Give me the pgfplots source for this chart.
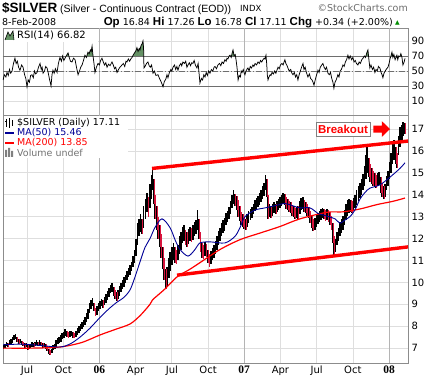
\documentclass[border=0pt]{standalone}
\usepackage{fontspec}
\setmainfont{DejaVu Sans}
\newfontfamily\arial{Liberation Sans}
\newfontfamily\tnr{Liberation Serif}
\usepackage{pgfplots}
\pgfplotsset{compat=1.18}
\usepackage{pgfplotstable}

\definecolor{gridc}{RGB}{222,222,222}
\definecolor{framec}{RGB}{140,140,140}
\definecolor{yearc}{RGB}{180,180,180}
\definecolor{barred}{RGB}{215,20,60}
\definecolor{manavy}{RGB}{0,0,150}
\definecolor{rsigreen}{RGB}{100,145,100}
\definecolor{lvl}{RGB}{110,110,110}

% half-week bars: month (Jan 2005 = 0), low, high, down flag
\pgfplotstableread{
m lo hi d
4.05 6.95 7.12 0
4.17 7.00 7.20 0
4.30 7.08 7.28 0
4.42 7.05 7.22 1
4.55 7.12 7.35 0
4.67 7.18 7.40 0
4.80 7.25 7.50 0
4.92 7.35 7.62 0
5.05 7.40 7.65 0
5.17 7.30 7.50 1
5.30 7.18 7.40 1
5.42 7.22 7.42 0
5.55 7.12 7.32 1
5.67 7.08 7.28 1
5.80 7.02 7.22 1
5.92 7.05 7.25 0
6.05 6.90 7.12 1
6.17 6.98 7.15 0
6.30 7.02 7.20 0
6.42 7.06 7.26 0
6.55 7.04 7.22 1
6.67 7.08 7.30 0
6.80 7.12 7.35 0
6.92 7.10 7.30 1
7.05 7.15 7.38 0
7.17 7.08 7.28 1
7.30 7.02 7.22 1
7.42 7.05 7.24 0
7.55 6.98 7.18 1
7.67 6.85 7.08 1
7.80 6.75 6.98 1
7.92 6.68 6.92 1
8.05 6.78 6.98 0
8.17 6.90 7.12 0
8.30 6.98 7.20 0
8.42 7.05 7.35 0
8.55 7.18 7.48 0
8.67 7.25 7.52 0
8.80 7.30 7.58 0
8.92 7.42 7.70 0
9.05 7.48 7.75 0
9.17 7.55 7.85 0
9.30 7.50 7.80 1
9.42 7.45 7.72 1
9.55 7.50 7.78 0
9.67 7.55 7.80 0
9.80 7.48 7.72 1
9.92 7.45 7.70 1
10.05 7.52 7.78 0
10.17 7.62 7.90 0
10.30 7.70 8.00 0
10.42 7.78 8.10 0
10.55 7.85 8.18 0
10.67 7.95 8.28 0
10.80 8.05 8.40 0
10.92 8.20 8.60 0
11.05 8.35 8.80 0
11.17 8.60 9.05 0
11.30 8.80 9.20 0
11.42 8.90 9.30 0
11.55 8.70 9.05 1
11.67 8.45 8.85 1
11.80 8.50 8.90 0
11.92 8.70 9.05 0
12.05 8.80 9.15 0
12.17 8.90 9.25 0
12.30 8.85 9.20 1
12.42 8.95 9.35 0
12.55 9.05 9.45 0
12.67 9.20 9.60 0
12.80 9.35 9.75 0
12.92 9.50 9.90 0
13.05 9.55 9.98 0
13.17 9.40 9.80 1
13.30 9.25 9.65 1
13.42 9.15 9.55 1
13.55 9.25 9.65 0
13.67 9.40 9.85 0
13.80 9.55 9.95 0
13.92 9.70 10.10 0
14.05 9.80 10.25 0
14.17 9.95 10.35 0
14.30 10.10 10.50 0
14.42 10.25 10.65 0
14.55 10.35 10.80 0
14.67 10.50 10.95 0
14.80 10.70 11.20 0
14.92 10.90 11.50 0
15.05 11.20 12.00 0
15.17 11.70 12.70 0
15.30 12.10 12.90 0
15.42 12.30 13.10 0
15.55 12.20 12.90 1
15.67 12.50 13.50 0
15.80 12.90 13.80 0
15.92 13.20 14.10 0
16.05 13.00 13.90 1
16.17 13.40 14.50 0
16.30 13.80 14.90 0
16.40 14.20 15.20 0
16.50 13.60 14.70 1
16.62 12.90 14.00 1
16.75 12.40 13.50 1
16.87 12.00 13.00 1
17.00 11.60 12.60 1
17.12 11.10 12.20 1
17.25 10.60 11.60 1
17.37 10.10 11.10 1
17.50 9.70 10.60 1
17.62 9.80 10.70 0
17.75 10.20 11.10 0
17.87 10.50 11.40 0
18.00 10.80 11.60 0
18.12 11.00 11.80 0
18.25 10.90 11.60 1
18.37 10.85 11.50 1
18.50 11.00 11.70 0
18.62 11.30 12.10 0
18.75 11.50 12.30 0
18.87 11.80 12.55 0
19.00 11.90 12.60 0
19.12 11.70 12.40 1
19.25 11.60 12.30 1
19.37 11.75 12.45 0
19.50 11.90 12.55 0
19.62 11.85 12.50 1
19.75 11.95 12.60 0
19.87 12.10 12.75 0
20.00 12.20 12.85 0
20.12 12.40 13.30 0
20.25 12.00 12.90 1
20.37 11.40 12.30 1
20.50 11.10 11.80 1
20.62 11.05 11.70 1
20.75 11.20 11.85 0
20.87 11.15 11.75 1
21.00 10.90 11.50 1
21.12 10.70 11.30 1
21.25 10.85 11.45 0
21.37 11.00 11.55 0
21.50 11.10 11.70 0
21.62 11.30 11.90 0
21.75 11.50 12.10 0
21.87 11.70 12.35 0
22.00 11.90 12.50 0
22.12 12.10 12.70 0
22.25 12.25 12.85 0
22.37 12.35 12.95 0
22.50 12.60 13.15 0
22.62 12.75 13.25 0
22.75 12.90 13.45 0
22.87 13.10 13.70 0
23.00 13.40 14.00 0
23.12 13.60 14.20 0
23.25 13.50 14.05 1
23.37 13.30 13.95 1
23.50 13.00 13.75 1
23.62 12.80 13.50 1
23.75 12.60 13.20 1
23.87 12.55 13.10 1
24.00 12.45 12.95 1
24.12 12.40 12.90 1
24.25 12.55 13.10 0
24.37 12.70 13.25 0
24.50 12.85 13.35 0
24.62 12.95 13.45 0
24.75 13.10 13.60 0
24.87 13.25 13.75 0
25.00 13.35 13.85 0
25.12 13.45 13.95 0
25.25 13.55 14.10 0
25.37 13.65 14.20 0
25.50 13.80 14.40 0
25.62 13.95 14.55 0
25.75 14.20 14.90 0
25.87 13.90 14.70 1
25.97 12.90 14.00 1
26.10 13.00 13.60 0
26.22 12.95 13.50 1
26.35 13.05 13.60 0
26.47 13.15 13.65 0
26.60 13.10 13.60 1
26.72 13.20 13.70 0
26.85 13.30 13.80 0
26.97 13.40 13.90 0
27.10 13.50 14.00 0
27.22 13.60 14.10 0
27.35 13.55 14.05 1
27.47 13.35 13.90 1
27.60 13.30 13.80 1
27.72 13.20 13.70 1
27.85 13.15 13.65 1
27.97 13.05 13.55 1
28.10 13.00 13.50 1
28.22 12.90 13.40 1
28.35 12.95 13.45 0
28.47 12.90 13.50 1
28.60 13.10 13.70 0
28.72 13.30 13.85 0
28.85 13.35 13.90 0
28.97 13.20 13.75 1
29.10 13.15 13.65 1
29.22 13.05 13.60 1
29.35 12.95 13.45 1
29.47 12.70 13.25 1
29.60 12.50 13.05 1
29.72 12.35 12.90 1
29.85 12.40 12.95 0
29.97 12.55 13.10 0
30.10 12.65 13.15 0
30.22 12.75 13.25 0
30.35 12.85 13.35 0
30.47 12.95 13.40 0
30.60 12.90 13.35 1
30.72 12.80 13.30 1
30.85 12.85 13.35 0
30.97 12.75 13.30 1
31.10 12.60 13.20 1
31.22 12.40 13.05 1
31.35 11.80 12.70 1
31.45 11.20 12.10 1
31.57 11.40 12.00 0
31.70 11.70 12.30 0
31.82 11.90 12.50 0
31.95 12.10 12.75 0
32.07 12.25 12.90 0
32.20 12.40 13.05 0
32.32 12.60 13.30 0
32.45 12.85 13.60 0
32.57 13.05 13.75 0
32.70 13.15 13.80 0
32.82 13.20 13.75 1
32.95 13.15 13.70 1
33.07 13.30 13.85 0
33.20 13.40 14.00 0
33.32 13.55 14.20 0
33.45 13.70 14.40 0
33.57 13.85 14.55 0
33.70 14.00 14.70 0
33.82 14.20 14.95 0
33.95 14.40 15.30 0
34.07 14.70 15.80 0
34.17 15.00 16.20 0
34.30 14.80 15.70 1
34.42 14.60 15.40 1
34.55 14.50 15.20 1
34.67 14.40 15.10 1
34.80 14.35 15.00 1
34.92 14.30 14.90 1
35.05 14.40 15.00 0
35.17 14.45 15.05 0
35.30 14.10 14.80 1
35.42 13.90 14.55 1
35.55 13.80 14.40 1
35.67 13.90 14.50 0
35.80 14.20 14.85 0
35.92 14.40 15.10 0
36.05 14.70 15.50 0
36.17 15.00 15.90 0
36.30 15.40 16.30 0
36.42 15.60 16.50 0
36.55 15.40 16.20 1
36.67 15.20 15.90 1
36.80 15.80 16.70 0
36.92 16.20 17.10 0
37.05 16.50 17.20 0
37.17 16.70 17.30 0
37.32 16.78 17.26 1
}\pricedata

\pgfplotstableread{
m v
4.01 7.15
5.50 7.18
7.08 7.12
8.73 7.05
9.60 7.20
10.39 7.50
11.20 7.90
12.05 8.40
12.80 8.80
13.46 9.10
14.00 9.30
14.53 9.65
14.95 10.25
15.40 11.00
15.78 11.60
16.19 12.00
16.60 12.50
17.18 12.90
17.85 12.50
18.30 11.90
18.68 11.50
19.34 11.20
19.92 11.50
20.33 11.80
21.16 11.85
22.40 11.80
23.23 12.10
23.65 12.50
24.06 13.00
24.89 13.30
25.72 13.40
26.55 13.50
27.37 13.60
28.00 13.50
28.62 13.40
29.45 13.40
30.11 13.15
30.69 13.05
31.52 12.90
31.93 12.70
32.35 12.85
32.76 13.00
33.17 13.30
33.59 13.80
34.00 14.10
34.41 14.30
35.24 14.45
36.07 14.80
36.90 15.20
37.32 15.46
}\mafifty

\pgfplotstableread{
m v
4.01 7.00
6.50 7.00
8.73 7.05
10.50 7.25
12.05 7.60
13.30 7.85
14.53 8.10
15.40 8.50
16.19 9.00
16.40 9.20
17.43 9.70
18.43 10.25
19.50 10.60
20.33 10.90
21.99 11.50
23.65 11.95
25.30 12.25
26.96 12.55
28.62 12.90
30.86 13.20
32.18 13.22
33.59 13.35
34.99 13.55
36.32 13.70
37.32 13.85
}\matwohundred

\pgfplotstableread{
m r
4.02 38
4.12 45
4.25 42
4.34 48
4.45 44
4.55 52
4.65 47
4.76 50
4.88 60
5.00 67
5.10 60
5.20 63
5.30 55
5.42 51
5.55 58
5.67 55
5.80 45
5.90 40
6.00 29
6.10 38
6.20 35
6.30 44
6.41 45
6.52 41
6.62 50
6.72 46
6.83 48
6.95 55
7.08 60
7.18 52
7.25 55
7.33 47
7.45 50
7.55 56
7.66 54
7.75 48
7.85 40
7.99 30
8.07 45
8.15 51
8.25 47
8.35 53
8.49 48
8.60 60
8.73 68
8.85 63
8.95 70
9.05 64
9.15 67
9.28 71
9.40 74
9.50 68
9.60 63
9.73 62
9.85 67
9.98 65
10.10 55
10.23 45
10.35 50
10.45 55
10.56 58
10.68 64
10.80 71
10.92 68
11.05 75
11.15 73
11.25 78
11.32 76
11.39 83
11.47 70
11.55 60
11.63 48
11.75 55
11.88 60
12.00 58
12.10 64
12.21 67
12.32 62
12.42 58
12.53 61
12.63 55
12.75 59
12.88 57
13.04 62
13.15 58
13.25 53
13.35 55
13.46 48
13.58 52
13.70 55
13.87 58
13.98 60
14.10 56
14.20 63
14.28 62
14.40 66
14.50 63
14.60 66
14.70 68
14.82 72
14.95 75
15.05 78
15.11 81
15.20 76
15.30 80
15.36 78
15.45 84
15.53 86
15.61 90
15.66 80
15.69 54
15.78 56
15.90 60
16.02 62
16.12 57
16.22 55
16.32 58
16.44 47
16.55 50
16.68 44
16.85 45
16.98 40
17.10 36
17.27 29
17.38 36
17.50 39
17.60 45
17.68 41
17.80 48
17.92 52
18.00 50
18.10 55
18.22 58
18.32 52
18.42 56
18.51 51
18.62 57
18.75 60
18.82 57
18.92 62
19.05 60
19.15 63
19.25 55
19.34 58
19.45 61
19.55 57
19.65 61
19.75 60
19.85 64
19.95 58
20.08 54
20.18 60
20.25 48
20.33 34
20.45 40
20.55 38
20.65 45
20.75 42
20.85 48
20.95 44
21.05 50
21.16 47
21.28 52
21.40 50
21.50 55
21.58 56
21.70 53
21.82 58
21.95 60
22.06 57
22.16 62
22.28 60
22.40 65
22.50 63
22.57 67
22.65 66
22.75 70
22.82 71
22.92 68
23.00 74
23.07 78
23.16 70
23.25 72
23.32 65
23.40 55
23.49 38
23.58 44
23.68 42
23.75 50
23.82 48
23.92 52
24.00 47
24.06 45
24.15 50
24.25 53
24.31 54
24.40 50
24.50 56
24.60 54
24.72 58
24.80 56
24.90 60
25.02 58
25.14 62
25.25 60
25.35 64
25.45 62
25.55 65
25.65 67
25.72 66
25.80 71
25.86 60
25.91 45
25.97 38
26.05 42
26.15 45
26.22 44
26.30 48
26.42 46
26.52 50
26.62 47
26.71 51
26.80 55
26.90 53
27.00 58
27.13 60
27.22 58
27.30 62
27.37 65
27.45 60
27.55 57
27.62 54
27.72 50
27.85 52
27.95 47
28.04 45
28.15 48
28.25 42
28.35 45
28.45 38
28.55 45
28.65 50
28.75 55
28.87 60
28.95 52
29.05 55
29.15 48
29.28 42
29.40 46
29.50 40
29.62 38
29.70 35
29.78 31
29.88 38
29.98 44
30.11 51
30.20 48
30.30 55
30.42 58
30.52 60
30.62 55
30.72 52
30.82 55
30.94 47
31.05 45
31.15 48
31.25 40
31.35 35
31.43 27
31.52 35
31.62 38
31.76 45
31.85 42
31.95 50
32.05 52
32.18 58
32.28 56
32.38 62
32.48 65
32.59 71
32.68 66
32.78 70
32.90 65
33.00 68
33.10 62
33.20 64
33.30 60
33.42 58
33.52 62
33.62 60
33.74 65
33.84 67
33.95 70
34.05 68
34.15 74
34.25 78
34.33 65
34.41 54
34.50 58
34.62 52
34.72 55
34.83 48
34.92 52
35.02 50
35.12 56
35.24 54
35.34 48
35.42 45
35.49 41
35.58 47
35.68 50
35.80 53
35.91 55
36.00 60
36.08 66
36.16 70
36.24 75
36.32 68
36.40 72
36.50 65
36.58 68
36.65 71
36.72 65
36.80 70
36.90 69
36.98 73
37.07 68
37.15 58
37.25 62
37.32 66.82
}\rsidata

\pgfplotsset{
  sc/.style={
    width=405pt, scale only axis,
    xmin=4.01, xmax=37.57,
    axis line style={draw=framec},
    major tick length=0pt,
    xmajorgrids, ymajorgrids,
    major grid style={draw=gridc, line width=0.7pt},
    xtick={6,9,15,18,21,27,30,33},
    extra x ticks={12,24,36},
    extra x tick style={major grid style={draw=yearc, line width=0.8pt}},
    yticklabel pos=right,
    /pgf/number format/assume math mode=true,
    yticklabel style={font=\fontsize{10}{10}\selectfont, anchor=west, xshift=0pt},
    clip=true,
  }
}

\begin{document}
\begin{tikzpicture}[x=1pt,y=1pt]
\useasboundingbox (0pt,-377pt) rectangle (431pt,0pt);

% ---------- RSI panel ----------
\begin{axis}[sc, at={(3pt,-115pt)}, anchor=south west, height=87pt,
  ymin=-8.7, ymax=107.3,
  ytick={10,30,50,70,90},
  xticklabels={}, extra x tick labels={}]
  \addplot[draw=lvl, line width=0.9pt, forget plot] coordinates {(4,70) (38,70)};
  \addplot[draw=lvl, line width=0.9pt, forget plot] coordinates {(4,30) (38,30)};
  \addplot[draw=lvl, line width=0.8pt, dash pattern=on 6pt off 2pt on 1pt off 2pt, forget plot] coordinates {(4,50) (38,50)};
  \begin{scope}
    \clip (axis cs:3,70) rectangle (axis cs:39,120);
    \addplot[fill=rsigreen, draw=none, forget plot] table[x=m, y=r] {\rsidata} \closedcycle;
  \end{scope}
  \addplot[black, line width=0.75pt, forget plot] table[x=m, y=r] {\rsidata};
\end{axis}

% ---------- price panel ----------
\begin{axis}[sc, at={(3pt,-363pt)}, anchor=south west, height=248pt,
  ymin=6.32, ymax=17.64,
  ytick={7,8,...,17},
  xticklabels={Jul,Oct,Apr,Jul,Oct,Apr,Jul,Oct},
  extra x tick labels={06,07,08},
  xticklabel style={font=\fontsize{10}{10}\selectfont, text height=7.5pt, text depth=1.5pt, inner sep=2.5pt},
  extra x tick style={xticklabel style={font=\tnr\bfseries\fontsize{11.5}{11.5}\selectfont, text height=7.5pt, text depth=1.5pt, inner sep=2.5pt}}]
  % bars
  \addplot[draw=none, mark=none, forget plot,
    error bars/.cd, y dir=both, y explicit, error mark=none,
    error bar style={draw=black, line width=1.55pt}]
    table[x=m, y expr={(\thisrow{lo}+\thisrow{hi})/2}, y error expr={(\thisrow{hi}-\thisrow{lo})/2}] {\pricedata};
  \addplot[draw=none, mark=none, forget plot,
    restrict expr to domain={\thisrow{d}}{0.5:1.5},
    error bars/.cd, y dir=both, y explicit, error mark=none,
    error bar style={draw=barred, line width=0.7pt}]
    table[x expr={\thisrow{m}+0.03}, y expr={(\thisrow{lo}+\thisrow{hi})/2}, y error expr={(\thisrow{hi}-\thisrow{lo})/2}] {\pricedata};
  % moving averages
  \addplot[red, line width=1.2pt, smooth, forget plot] table[x=m, y=v] {\matwohundred};
  \addplot[manavy, line width=0.9pt, smooth, forget plot] table[x=m, y=v] {\mafifty};
  % channel
  \addplot[red, line width=3.4pt, forget plot] coordinates {(16.36,15.20) (37.57,16.45)};
  \addplot[red, line width=3.4pt, forget plot] coordinates {(18.43,10.33) (37.57,11.62)};
  % annotation
  \node[draw=gray, fill=white, text=red, font=\arial\bfseries\fontsize{11.5}{12}\selectfont,
        inner xsep=2pt, inner ysep=1.5pt, minimum height=14pt] at (axis cs:32.18,17.0) {Breakout};
  \fill[red] (axis cs:34.70,16.84) -- (axis cs:35.40,16.84) -- (axis cs:35.40,16.64)
     -- (axis cs:36.08,17.0) -- (axis cs:35.40,17.36) -- (axis cs:35.40,17.16)
     -- (axis cs:34.70,17.16) -- cycle;
\end{axis}

% ---------- legends ----------
\fill[white] (3.6,-115.6) rectangle (128,-158);
\node[anchor=west, inner sep=0] at (17,-123) {\fontsize{9.5}{10}\selectfont \$SILVER (Daily) 17.11};
\draw[black, line width=1pt] (6,-119) -- (6,-127) (9,-118) -- (9,-128) (12,-120) -- (12,-126);
\draw[black, line width=0.8pt] (5,-121) -- (6,-121) (9,-125) -- (10,-125);
\draw[manavy, line width=1.6pt] (5,-133) -- (14,-133);
\node[anchor=west, inner sep=0, text=manavy] at (17,-133) {\fontsize{9.5}{10}\selectfont MA(50) 15.46};
\draw[red, line width=1.6pt] (5,-143) -- (14,-143);
\node[anchor=west, inner sep=0, text=red] at (17,-143) {\fontsize{9.5}{10}\selectfont MA(200) 13.85};
\fill[gray] (5,-157) rectangle (7,-150) (8,-157) rectangle (10,-148) (11,-157) rectangle (13,-151);
\node[anchor=west, inner sep=0, text=gray!90!black] at (17,-153) {\fontsize{9.5}{10}\selectfont Volume undef};

\fill[white] (3.6,-28.6) rectangle (98,-42);
\fill[rsigreen] (5,-40) -- (8,-32) -- (10,-36) -- (13,-31) -- (14,-40) -- cycle;
\draw[black, line width=0.6pt] (5,-40) -- (8,-32) -- (10,-36) -- (13,-31) -- (14,-40);
\node[anchor=west, inner sep=0] at (17,-35) {\fontsize{10}{10}\selectfont RSI(14) 66.82};

% ---------- header ----------
\node[anchor=base west, inner sep=0] at (2,-13) {\arial\bfseries\fontsize{13.5}{14}\selectfont \$SILVER};
\node[anchor=base west, inner sep=0] at (60,-12.5) {\arial\fontsize{10.5}{12}\selectfont (Silver - Continuous Contract (EOD))};
\node[anchor=base west, inner sep=0] at (240,-12) {\fontsize{8.5}{10}\selectfont INDX};
\node[anchor=base east, inner sep=0, text=gray!85!black] at (408,-12) {\fontsize{9.5}{10}\selectfont ©StockCharts.com};
\node[anchor=base west, inner sep=0] at (2,-25.5) {\fontsize{9.5}{10}\selectfont 8-Feb-2008};
\node[anchor=base east, inner sep=0] at (393,-25.5) {\fontsize{9.5}{10}\selectfont
  {\arial\bfseries\fontsize{11.5}{12}\selectfont Op} 16.84 {\arial\bfseries\fontsize{11.5}{12}\selectfont Hi} 17.26
  {\arial\bfseries\fontsize{11.5}{12}\selectfont Lo} 16.78 {\arial\bfseries\fontsize{11.5}{12}\selectfont Cl} 17.11
  {\arial\bfseries\fontsize{11.5}{12}\selectfont Chg} +0.34 (+2.00\%)};
\node[anchor=base west, inner sep=0, text=green!55!black] at (395,-25) {\fontsize{6}{6}\selectfont ▲};
\end{tikzpicture}
\end{document}
